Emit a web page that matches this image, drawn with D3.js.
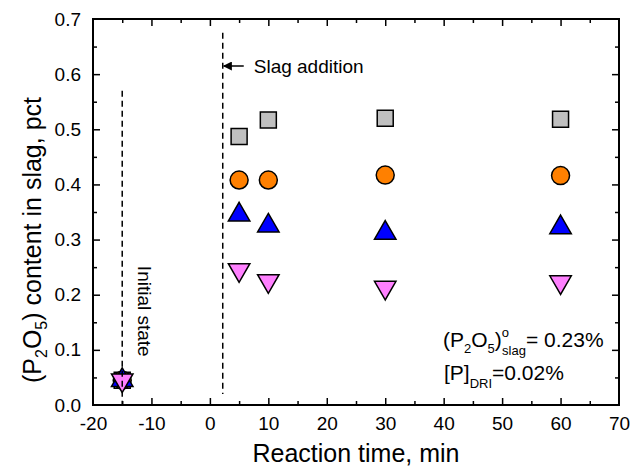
<!DOCTYPE html>
<html>
<head>
<meta charset="utf-8">
<script src="https://cdn.jsdelivr.net/npm/d3@7"></script>
<style>
  body { margin: 0; background: #fff; }
  svg { font-family: "Liberation Sans", Arial, sans-serif; }
</style>
</head>
<body>
<div id="chart"></div>
<script>
// reaction time (min) for each sample; -15 is the initial state
var times = [-15, 5, 10, 30, 60];
var squareVals   = [0.045, 0.487, 0.517, 0.520, 0.518];
var circleVals   = [0.045, 0.408, 0.408, 0.417, 0.416];
var upTriVals    = [0.045, 0.345, 0.325, 0.312, 0.322];
var downTriVals  = [0.045, 0.245, 0.225, 0.213, 0.223];
var xTicks = [-20, -10, 0, 10, 20, 30, 40, 50, 60, 70];
var yTicks = [0.0, 0.1, 0.2, 0.3, 0.4, 0.5, 0.6, 0.7];
var slagAdditionTime = 2.2;
var initialTime = -15;

var W = 630, H = 470;
var margin = {left: 93, right: 11, top: 19, bottom: 65};

var svg = d3.select("#chart").append("svg")
  .attr("width", W).attr("height", H);

var x = d3.scaleLinear().domain([-20, 70]).range([margin.left, W - margin.right]);
var y = d3.scaleLinear().domain([0, 0.7]).range([H - margin.bottom, margin.top]);

var x0 = x.range()[0], x1 = x.range()[1], y0 = y.range()[0], y1 = y.range()[1];

// minor ticks
var xMinor = d3.range(-15, 70, 10);
var yMinor = d3.range(0.05, 0.7, 0.1);
var majLen = -7, minLen = -4;

// bottom axis
var gB = svg.append("g").attr("transform", "translate(0," + y0 + ")")
  .call(d3.axisBottom(x).tickValues(xTicks).tickSizeInner(majLen).tickSizeOuter(0).tickPadding(12).tickFormat(function(d){ return String(d); }));
gB.selectAll(".tick").filter(function(d){ return d == -20 || d == 70; }).select("line").remove();
svg.append("g").attr("transform", "translate(0," + y0 + ")")
  .call(d3.axisBottom(x).tickValues(xMinor).tickSizeInner(minLen).tickSizeOuter(0).tickFormat(""));
// top axis
svg.append("g").attr("transform", "translate(0," + y1 + ")")
  .call(d3.axisTop(x).tickValues(xTicks.slice(1, -1)).tickSizeInner(majLen).tickSizeOuter(0).tickFormat(""));
svg.append("g").attr("transform", "translate(0," + y1 + ")")
  .call(d3.axisTop(x).tickValues(xMinor).tickSizeInner(minLen).tickSizeOuter(0).tickFormat(""));
// left axis
var gL = svg.append("g").attr("transform", "translate(" + x0 + ",0)")
  .call(d3.axisLeft(y).tickValues(yTicks).tickSizeInner(majLen).tickSizeOuter(0).tickPadding(12).tickFormat(d3.format(".1f")));
gL.selectAll(".tick").filter(function(d){ return d == 0 || d == 0.7; }).select("line").remove();
svg.append("g").attr("transform", "translate(" + x0 + ",0)")
  .call(d3.axisLeft(y).tickValues(yMinor).tickSizeInner(minLen).tickSizeOuter(0).tickFormat(""));
// right axis
svg.append("g").attr("transform", "translate(" + x1 + ",0)")
  .call(d3.axisRight(y).tickValues(yTicks.slice(1, -1)).tickSizeInner(majLen).tickSizeOuter(0).tickFormat(""));
svg.append("g").attr("transform", "translate(" + x1 + ",0)")
  .call(d3.axisRight(y).tickValues(yMinor).tickSizeInner(minLen).tickSizeOuter(0).tickFormat(""));

svg.selectAll(".domain").remove();
svg.selectAll(".tick line").attr("stroke", "#000").attr("stroke-width", 1.5);
svg.selectAll(".tick text").attr("font-size", 19).attr("fill", "#000");

// frame
svg.append("rect")
  .attr("x", x0).attr("y", y1)
  .attr("width", x1 - x0).attr("height", y0 - y1)
  .attr("fill", "none").attr("stroke", "#000").attr("stroke-width", 2);

// markers
function drawSeries(vals, type, fill, size) {
  var down = type === "down";
  var sym = d3.symbol().type(down ? d3.symbolTriangle : type).size(size);
  svg.append("g").selectAll("path")
    .data(vals)
    .join("path")
    .attr("transform", function(d, i) {
      return "translate(" + x(times[i]) + "," + y(d) + ")" + (down ? " rotate(180)" : "");
    })
    .attr("d", sym)
    .attr("fill", fill)
    .attr("stroke", "#000")
    .attr("stroke-width", 1.5);
}
drawSeries(squareVals, d3.symbolSquare, "#c0c0c0", 256);
drawSeries(circleVals, d3.symbolCircle, "#ff8000", 254);
drawSeries(upTriVals, d3.symbolTriangle, "#0000ff", 200);
drawSeries(downTriVals, "down", "#ff80ff", 200);

// dashed lines
svg.append("line")
  .attr("x1", x(slagAdditionTime)).attr("x2", x(slagAdditionTime))
  .attr("y1", y(0.675)).attr("y2", y(0.02))
  .attr("stroke", "#000").attr("stroke-width", 1.5).attr("stroke-dasharray", "6,4");
svg.append("line")
  .attr("x1", x(initialTime)).attr("x2", x(initialTime))
  .attr("y1", y(0.57)).attr("y2", y(0.0))
  .attr("stroke", "#000").attr("stroke-width", 1.5).attr("stroke-dasharray", "6,4");

// arrow for slag addition
svg.append("defs").append("marker")
  .attr("id", "arrow").attr("viewBox", "0 0 10 10")
  .attr("refX", 9).attr("refY", 5)
  .attr("markerWidth", 10).attr("markerHeight", 9)
  .attr("markerUnits", "userSpaceOnUse")
  .attr("orient", "auto")
  .append("path").attr("d", "M0,0 L10,5 L0,10 z").attr("fill", "#000");
svg.append("line")
  .attr("x1", x(slagAdditionTime) + 21).attr("x2", x(slagAdditionTime) + 1)
  .attr("y1", 66).attr("y2", 66)
  .attr("stroke", "#000").attr("stroke-width", 1.5)
  .attr("marker-end", "url(#arrow)");
svg.append("text")
  .attr("x", x(slagAdditionTime) + 31).attr("y", 73)
  .attr("font-size", 19).text("Slag addition");

svg.append("text")
  .attr("transform", "translate(" + (x(initialTime) + 16) + "," + y(0.17) + ") rotate(90)")
  .attr("text-anchor", "middle")
  .attr("font-size", 19).text("Initial state");

// axis titles
svg.append("text")
  .attr("x", (x0 + x1) / 2).attr("y", 462)
  .attr("text-anchor", "middle")
  .attr("font-size", 25).text("Reaction time, min");

var yt = svg.append("text")
  .attr("transform", "translate(41,240) rotate(-90)")
  .attr("text-anchor", "middle")
  .attr("font-size", 25);
yt.append("tspan").text("(P");
yt.append("tspan").attr("font-size", 16).attr("dy", 6).text("2");
yt.append("tspan").attr("dy", -6).text("O");
yt.append("tspan").attr("font-size", 16).attr("dy", 6).text("5");
yt.append("tspan").attr("dy", -6).text(") content in slag, pct");

// conditions note
var n1 = svg.append("text").attr("x", 443).attr("y", 347).attr("font-size", 21);
n1.append("tspan").text("(P");
n1.append("tspan").attr("font-size", 13).attr("dy", 6).text("2");
n1.append("tspan").attr("dy", -6).text("O");
n1.append("tspan").attr("font-size", 13).attr("dy", 6).text("5");
n1.append("tspan").attr("dy", -6).text(")");
n1.append("tspan").attr("font-size", 13).attr("dy", -10).text("o");
n1.append("tspan").attr("font-size", 13).attr("dx", -7).attr("dy", 18).text("slag");
n1.append("tspan").attr("dy", -8).text("= 0.23%");

var n2 = svg.append("text").attr("x", 444).attr("y", 380).attr("font-size", 21);
n2.append("tspan").text("[P]");
n2.append("tspan").attr("font-size", 13).attr("dy", 8).text("DRI");
n2.append("tspan").attr("dy", -8).text("=0.02%");
</script>
</body>
</html>
